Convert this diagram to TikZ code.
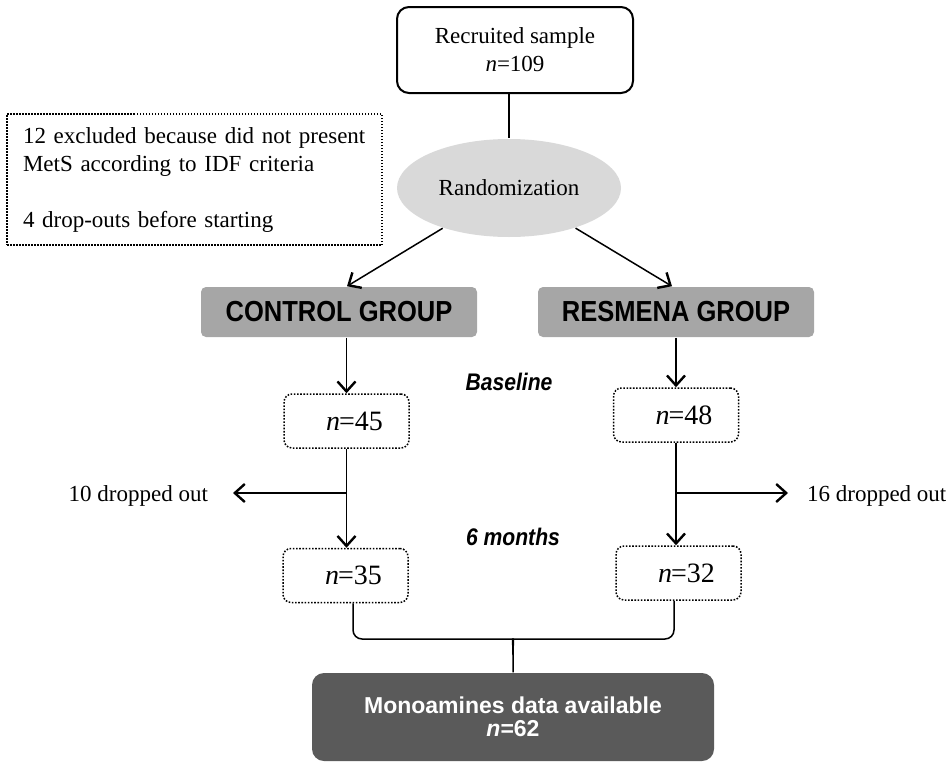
\documentclass[tikz,border=0pt]{standalone}
\usepackage{fontspec}
\setmainfont{Liberation Serif}
\setsansfont{Liberation Sans}
\usepackage{graphicx}
\usetikzlibrary{arrows.meta,shapes.geometric,calc}
\definecolor{groupgray}{HTML}{A6A6A6}
\definecolor{randgray}{HTML}{D9D9D9}
\definecolor{darkbox}{HTML}{5A5A5A}
\newcommand{\narrowtext}[1]{\scalebox{0.88}[1]{#1}}
\begin{document}
\begin{tikzpicture}[x=1pt,y=-1pt,line width=1.5pt,
  >={Straight Barb[length=10pt,width=18pt,line width=2.4pt]},
  serif/.style={font=\fontsize{23}{28}\selectfont},
  countbox/.style={draw,dash pattern={on 1.6pt off 1.6pt},rounded corners=8pt,
    minimum width=125pt,minimum height=54pt,inner sep=0pt,
    font=\fontsize{28}{30}\selectfont},
  groupbox/.style={fill=groupgray,rounded corners=5pt,minimum width=276pt,
    minimum height=50pt,inner sep=0pt,font=\sffamily\bfseries\fontsize{29}{30}\selectfont},
  phase/.style={font=\sffamily\bfseries\itshape\fontsize{24}{26}\selectfont},
]
\useasboundingbox (0,0) rectangle (949,763);

% enrolment
\node[draw,line width=2pt,rounded corners=12pt,minimum width=236pt,minimum height=86pt,
  inner sep=0pt,serif,align=center] (rec) at (515,50) {Recruited sample\\\textit{n}=109};
\node[draw,dash pattern={on 1.5pt off 1.5pt},minimum width=375pt,minimum height=131pt,
  inner sep=0pt,serif,align=left,text width=343pt] (excl) at (194.5,179.5)
  {12 excluded because did not present\\MetS according to IDF criteria\\[28pt]4 drop-outs before starting};
\node[ellipse,fill=randgray,minimum width=224pt,minimum height=98pt,inner sep=0pt,serif]
  (rand) at (509,188) {Randomization};

% groups
\node[groupbox] (ctrl) at (339,312) {\narrowtext{CONTROL GROUP}};
\node[groupbox] (resm) at (676,312) {\narrowtext{RESMENA GROUP}};

\node[phase] (base) at (509,382) {\narrowtext{Baseline}};
\node[phase] (six) at (513,537) {\narrowtext{6 months}};

\node[countbox] (n45) at (346.5,421) {\hspace*{16pt}\textit{n}\kern-1pt=45};
\node[countbox] (n48) at (676,415) {\hspace*{16pt}\textit{n}\kern-1pt=48};
\node[countbox] (n35) at (345.5,575.5) {\hspace*{16pt}\textit{n}\kern-1pt=35};
\node[countbox] (n32) at (678.5,573) {\hspace*{16pt}\textit{n}\kern-1pt=32};

\coordinate (dl) at (233,493);
\coordinate (dr) at (788,493);
\node[serif,anchor=east] (dlt) at (212,496) {10 dropped out};
\node[serif,anchor=west] (drt) at (803,496) {16 dropped out};

\node[fill=darkbox,rounded corners=12pt,minimum width=402pt,minimum height=88pt,
  inner sep=0pt,text=white,align=center,
  font=\sffamily\bfseries\fontsize{23}{23}\selectfont] (mono) at (513,717)
  {Monoamines data available\\\textit{n}=62};
\coordinate (bm) at (513,639);

% connectors
\draw (rand.north |- rec.south) -- (rand.north);
\draw[->] (rand) -- ([xshift=8pt]ctrl.north);
\draw[->] (rand) -- ([xshift=-4pt]resm.north);
\draw[->] (n45.north |- ctrl.south) -- (n45.north);
\draw[->] (n48.north |- resm.south) -- (n48.north);
\draw[->] (n45.south) -- (n45.south |- n35.north);
\draw[->] (n48.south) -- (n48.south |- n32.north);
\draw[->] (n45.south |- dl) -- (dl);
\draw[->] (n48.south |- dr) -- (dr);

% closing brace into the pooled sample
\draw[rounded corners=9pt] ([xshift=7.5pt]n35.south) |- ($(bm)+(-9,0)$)
  [sharp corners] .. controls ($(bm)+(-1,0)$) and ($(bm)+(0,5)$) .. ($(bm)+(0,16)$) -- (mono.north);
\draw[rounded corners=9pt] ([xshift=-4.5pt]n32.south) |- ($(bm)+(9,0)$)
  [sharp corners] .. controls ($(bm)+(1,0)$) and ($(bm)+(0,5)$) .. ($(bm)+(0,16)$);
\end{tikzpicture}
\end{document}
